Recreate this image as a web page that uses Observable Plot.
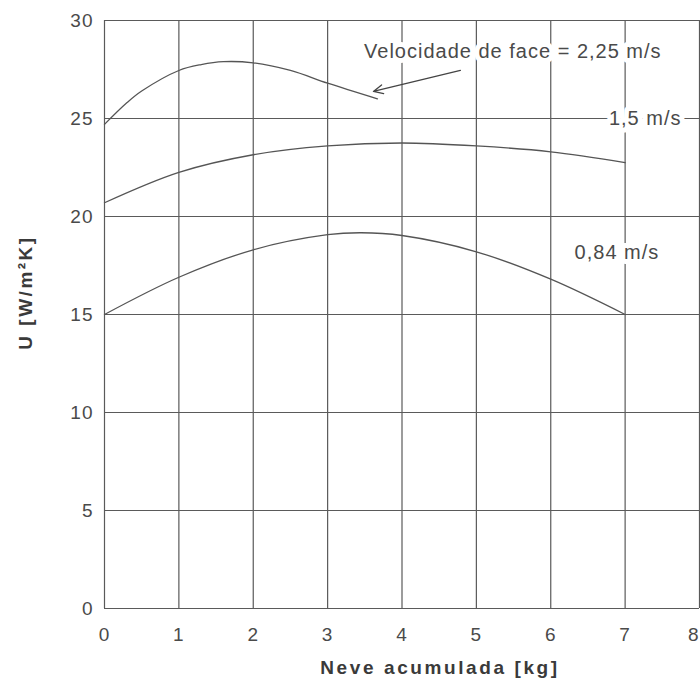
<!DOCTYPE html>
<html>
<head>
<meta charset="utf-8">
<script src="https://cdn.jsdelivr.net/npm/d3@7"></script>
<script src="https://cdn.jsdelivr.net/npm/@observablehq/plot@0.6"></script>
<style>
  html, body { margin: 0; padding: 0; background: #fff; }
  #chart svg { display: block; }
</style>
</head>
<body>
<div id="chart"></div>
<script>
// Face velocity 2.25 m/s
const snow225 = [0, 0.3, 0.5, 1, 1.3, 1.6, 2, 2.5, 3, 3.67];
const u225    = [24.7, 25.8, 26.4, 27.45, 27.75, 27.9, 27.84, 27.45, 26.8, 26.0];
// Face velocity 1.5 m/s
const snow15  = [0, 1, 2, 3, 4, 5, 6, 7];
const u15     = [20.7, 22.25, 23.15, 23.6, 23.75, 23.6, 23.3, 22.75];
// Face velocity 0.84 m/s
const snow084 = [0, 1, 2, 3, 3.45, 4, 5, 6, 7];
const u084    = [15.0, 16.9, 18.3, 19.07, 19.17, 19.03, 18.2, 16.8, 15.0];

const xTicks = [0, 1, 2, 3, 4, 5, 6, 7, 8];
const yTicks = [0, 5, 10, 15, 20, 25, 30];

const labelTexts = ["Velocidade de face = 2,25 m/s", "1,5 m/s", "0,84 m/s"];
const labelX = [5.49, 7.27, 6.89];
const labelY = [28.42, 25.0, 18.16];

const arrowFrom = [4.785, 27.45];
const arrowTo   = [3.616, 26.38];

const xLabel = "Neve acumulada [kg]";
const yLabel = "U [W/m²K]";

const toPts = (xs, ys) => xs.map((x, i) => ({x, y: ys[i]}));
const labels = labelTexts.map((t, i) => ({t, x: labelX[i], y: labelY[i]}));

const ink = "#4a4a4a";
const font = "Liberation Sans, Arial, Helvetica, sans-serif";
const lastTick = xTicks.slice(-1);
const innerTicks = xTicks.slice(0, -1);

const chart = Plot.plot({
  width: 700,
  height: 686,
  marginLeft: 104,
  marginRight: 1,
  marginTop: 20,
  marginBottom: 78,
  style: {fontFamily: font, background: "#fff", letterSpacing: "1px"},
  x: {domain: [0, 8], ticks: xTicks},
  y: {domain: [0, 30], ticks: yTicks},
  marks: [
    Plot.ruleX(xTicks, {stroke: "#5a5a5a", strokeWidth: 1.2}),
    Plot.ruleY(yTicks, {stroke: "#5a5a5a", strokeWidth: 1.2}),
    Plot.axisX({ticks: innerTicks, tickSize: 0, tickPadding: 19, fontSize: 19, color: ink, label: null, tickFormat: d => String(d)}),
    Plot.axisX({ticks: lastTick, tickSize: 0, tickPadding: 19, fontSize: 19, color: ink, label: null, textAnchor: "end", tickFormat: d => String(d)}),
    Plot.axisY({ticks: yTicks, tickSize: 0, tickPadding: 11, fontSize: 19, color: ink, label: null, tickFormat: d => String(d)}),
    Plot.line(toPts(snow225, u225), {x: "x", y: "y", curve: "catmull-rom", stroke: "#555", strokeWidth: 1.3}),
    Plot.line(toPts(snow15, u15), {x: "x", y: "y", curve: "catmull-rom", stroke: "#555", strokeWidth: 1.3}),
    Plot.line(toPts(snow084, u084), {x: "x", y: "y", curve: "catmull-rom", stroke: "#555", strokeWidth: 1.3}),
    Plot.text(labels, {x: "x", y: "y", text: "t", fontSize: 20, fill: ink, stroke: "#fff", strokeWidth: 10, paintOrder: "stroke", strokeLinejoin: "round", fontFamily: font}),
    Plot.arrow([{x1: arrowFrom[0], y1: arrowFrom[1], x2: arrowTo[0], y2: arrowTo[1]}], {x1: "x1", y1: "y1", x2: "x2", y2: "y2", stroke: "#444", strokeWidth: 1.3, headLength: 12, headAngle: 50}),
    Plot.text([xLabel], {frameAnchor: "bottom", textAnchor: "middle", dx: 38, dy: 65, fontSize: 19, fontWeight: "bold", fill: "#3a3a3a", fontFamily: font}),
    Plot.text([yLabel], {frameAnchor: "left", textAnchor: "middle", rotate: -90, dx: -79, dy: -22, fontSize: 19, fontWeight: "bold", fill: "#3a3a3a", fontFamily: font})
  ]
});
d3.select(chart).selectAll("text").each(function() {
  const t = this.textContent;
  if (t === xLabel) this.style.letterSpacing = "2.6px";
  if (t === yLabel) this.style.letterSpacing = "2.5px";
});
document.getElementById("chart").appendChild(chart);
</script>
</body>
</html>
